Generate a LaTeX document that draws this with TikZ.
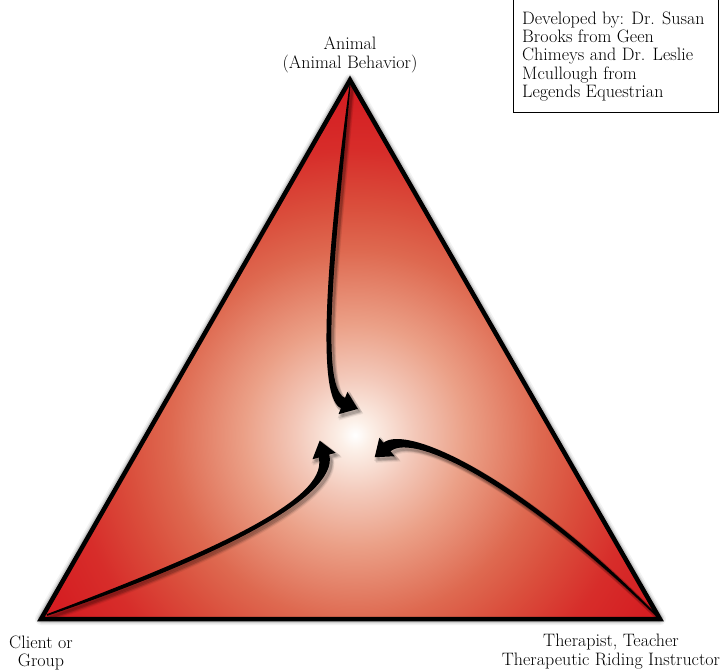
\documentclass[tikz,border=0pt]{standalone}
\definecolor{g1}{RGB}{252,240,232}
\definecolor{g2}{RGB}{243,200,185}
\definecolor{g3}{RGB}{235,160,135}
\definecolor{g4}{RGB}{222,105,80}
\definecolor{g5}{RGB}{218,78,60}
\definecolor{g6}{RGB}{215,45,42}
\definecolor{g7}{RGB}{213,30,34}
\definecolor{g8}{RGB}{212,28,33}
\pgfdeclareradialshading{trishade}{\pgfpoint{0bp}{0bp}}{color(0bp)=(white); color(1bp)=(g1); color(4bp)=(g2); color(7.5bp)=(g3); color(12.5bp)=(g4); color(15.5bp)=(g5); color(19.25bp)=(g6); color(23bp)=(g7); color(25bp)=(g8); color(50bp)=(g8)}
\newcommand\ArrTop[1]{\fill[#1] (349.5,85) .. controls (331,220) and (312.96,397.12) .. (340.96,408.12) -- (338.56,414.16) -- (357.9,408.9) -- (347.44,391.84) -- (345.04,397.88) .. controls (317.04,386.88) and (339,220) .. (350.5,85) -- cycle;}
\newcommand\ArrLeft[1]{\fill[#1] (47.3,615.8) .. controls (202,563.4) and (340.28,498.51) .. (329.28,454.51) -- (335.52,452.76) -- (319.68,440.64) -- (312.48,459.24) -- (318.72,457.49) .. controls (329.72,501.49) and (198,556.6) .. (46.7,614.2) -- cycle;}
\newcommand\ArrRight[1]{\fill[#1] (656.5,614.5) .. controls (521.2,476.2) and (406.48,423.76) .. (383.48,442.76) -- (379.32,437.76) -- (374.68,457.24) -- (394.68,456.24) -- (390.52,451.24) .. controls (413.52,432.24) and (518.8,483.8) .. (655.5,615.5) -- cycle;}
\tikzset{
  lbl/.style={inner sep=0pt, align=center, font=\fontsize{18}{18.3}\selectfont},
  tribord/.style={line width=4.5pt, line join=miter},
  glow/.style={draw=black, line join=round},
}
\begin{document}
\begin{tikzpicture}[x=1pt, y=-1pt]
\useasboundingbox (0,0) rectangle (721,670);
\clip (0,0) rectangle (721,670);
\coordinate (A) at (350,80);
\coordinate (L) at (41,619);
\coordinate (R) at (660,619);
% soft shadow of triangle
\begin{scope}[shift={(1.5,2)}]
\draw[glow, line width=12pt, opacity=0.05] (A) -- (L) -- (R) -- cycle;
\draw[glow, line width=9pt, opacity=0.08] (A) -- (L) -- (R) -- cycle;
\draw[glow, line width=7pt, opacity=0.12] (A) -- (L) -- (R) -- cycle;
\end{scope}
% gradient fill
\begin{scope}
\clip (A) -- (L) -- (R) -- cycle;
\shade[shading=trishade] (355,435) circle (370);
\end{scope}
% arrow shadows
\foreach \s/\o in {{(3,4)}/0.06,{(2.5,3)}/0.08,{(1.5,2)}/0.1}{
  \ArrTop{black, opacity=\o, shift=\s, draw=black, line width=3pt}
  \ArrLeft{black, opacity=\o, shift=\s, draw=black, line width=3pt}
  \ArrRight{black, opacity=\o, shift=\s, draw=black, line width=3pt}
}
% arrows
\ArrTop{black}
\ArrLeft{black}
\ArrRight{black}
% triangle outline
\draw[tribord] (A) -- (L) -- (R) -- cycle;
% labels
\node[lbl, anchor=north] (animal) at (350,36.8) {Animal\\(Animal Behavior)};
\node[lbl, anchor=north] (client) at (41,635.8) {Client or\\Group};
\node[lbl, anchor=north] (therapist) at (611,634.2) {Therapist, Teacher\\Therapeutic Riding Instructor};
% credit box
\node[draw, line width=1.2pt, anchor=south west, minimum width=205pt, minimum height=130pt, inner sep=0pt] (box) at (513,113) {};
\node[lbl, align=left, anchor=north west] (credit) at (522,11.5) {Developed by: Dr. Susan\\Brooks from Geen\\Chimeys and Dr. Leslie\\Mcullough from\\Legends Equestrian};
\end{tikzpicture}
\end{document}
